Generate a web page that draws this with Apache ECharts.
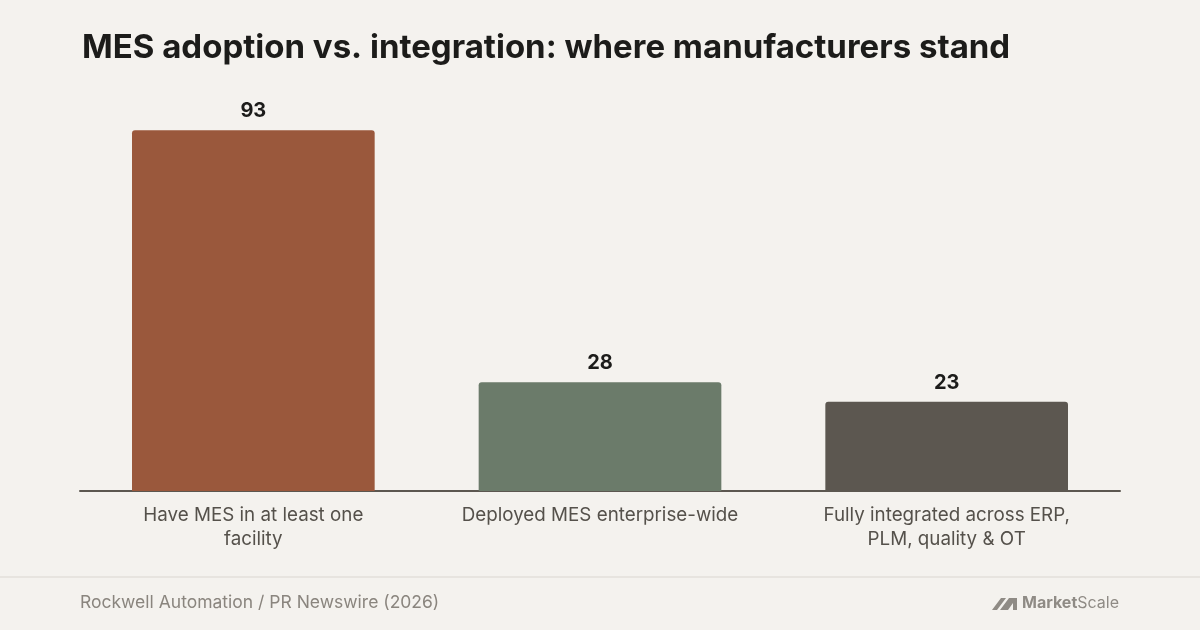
<!DOCTYPE html>
<html>
<head>
    <meta charset="utf-8">
    <title>MES adoption vs. integration</title>
    <script src="https://cdn.jsdelivr.net/npm/echarts@6/dist/echarts.min.js"></script>
    <style>
        html, body { margin: 0; padding: 0; background: #f4f2ee; }
        #main { width: 1200px; height: 630px; }
    </style>
</head>
<body>
    <div id="main"></div>
    <script>
        // data
        var categories = ['Have MES in at least one facility', 'Deployed MES enterprise-wide', 'Fully integrated across ERP, PLM, quality & OT'];
        var tickLabels = ['Have MES in at least one\nfacility', 'Deployed MES enterprise-wide', 'Fully integrated across ERP,\nPLM, quality & OT'];
        var values = [93, 28, 23];
        var barColors = ['#9a583c', '#6b7b6a', '#5c5750'];

        var FONT = 'Inter, "Noto Sans", sans-serif';

        var myChart = echarts.init(document.getElementById('main'));

        var option = {
            backgroundColor: '#f4f2ee',
            animation: false,
            title: {
                text: 'MES adoption vs. integration: where manufacturers stand',
                left: 77,
                top: 27,
                textStyle: {
                    fontFamily: FONT,
                    fontSize: 33,
                    fontWeight: 'bold',
                    color: '#1c1c1a'
                }
            },
            grid: {
                left: 80,
                right: 80,
                top: 103,
                bottom: 139
            },
            xAxis: {
                type: 'category',
                data: categories,
                axisTick: { show: false },
                axisLine: { lineStyle: { color: '#5c5750', width: 2 } },
                axisLabel: {
                    margin: 12,
                    interval: 0,
                    fontFamily: FONT,
                    fontSize: 18.8,
                    lineHeight: 24,
                    color: '#55514b',
                    formatter: function (v, i) { return tickLabels[i]; }
                }
            },
            yAxis: {
                type: 'value',
                min: 0,
                max: 100,
                show: false,
                splitLine: { show: false }
            },
            series: [{
                type: 'bar',
                barWidth: '70%',
                data: values.map(function (v, i) {
                    return { value: v, itemStyle: { color: barColors[i] } };
                }),
                itemStyle: { borderRadius: [3, 3, 0, 0] },
                label: {
                    show: true,
                    position: 'top',
                    distance: 9,
                    fontFamily: FONT,
                    fontSize: 20,
                    fontWeight: 'bold',
                    color: '#1c1c1a'
                }
            }],
            graphic: [
                {
                    type: 'rect',
                    shape: { x: 0, y: 576, width: 1200, height: 2 },
                    style: { fill: '#e7e4df' }
                },
                {
                    type: 'text',
                    left: 80,
                    top: 594,
                    style: {
                        text: 'Rockwell Automation / PR Newswire (2026)',
                        font: '17.5px ' + FONT,
                        fill: '#8a857e'
                    }
                },
                {
                    type: 'polygon',
                    shape: { points: [[992, 610], [1001, 598], [1006, 598], [997, 610]] },
                    style: { fill: '#8f8b85' }
                },
                {
                    type: 'polygon',
                    shape: { points: [[1000, 610], [1009, 598], [1017, 598], [1017, 610], [1013, 610], [1013, 603], [1008, 610]] },
                    style: { fill: '#8f8b85' }
                },
                {
                    type: 'text',
                    right: 81,
                    top: 595,
                    style: {
                        text: '{b|Market}{r|Scale}',
                        rich: {
                            b: { fontFamily: FONT, fontSize: 16, fontWeight: 'bold', fill: '#8f8b85', color: '#8f8b85' },
                            r: { fontFamily: FONT, fontSize: 16, fill: '#8f8b85', color: '#8f8b85' }
                        }
                    }
                }
            ]
        };

        option && myChart.setOption(option);

        window.onresize = function () {
            myChart.resize();
        };
    </script>
</body>
</html>
